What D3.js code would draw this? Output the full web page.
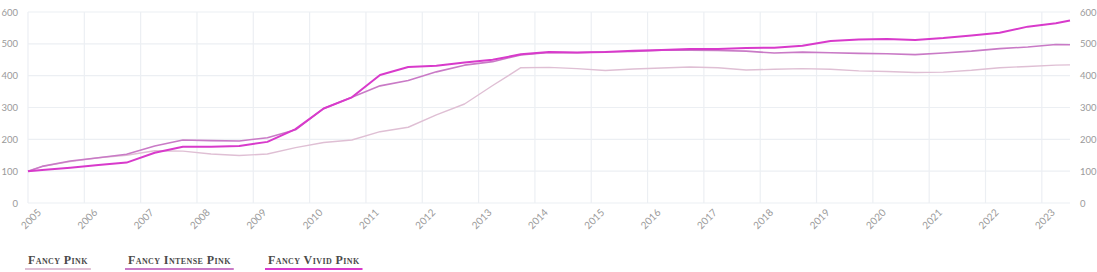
<!DOCTYPE html>
<html><head><meta charset="utf-8">
<script src="https://cdn.jsdelivr.net/npm/d3@7/dist/d3.min.js"></script>
<style>
html,body{margin:0;padding:0;background:#fff;}
svg{display:block;}
</style></head>
<body>
<svg id="c" width="1097" height="272"></svg>
<script>
const dates = [2005.0,2005.25,2005.75,2006.25,2006.75,2007.25,2007.75,2008.25,2008.75,2009.25,2009.75,2010.25,2010.75,2011.25,2011.75,2012.25,2012.75,2013.25,2013.75,2014.25,2014.75,2015.25,2015.75,2016.25,2016.75,2017.25,2017.75,2018.25,2018.75,2019.25,2019.75,2020.25,2020.75,2021.25,2021.75,2022.25,2022.75,2023.25,2023.5];
const fancyPink = [100,115,130,142,150,164,163,154,149,154,174,190,198,224,238,277,311,369,425,426,422,416,421,424,427,425,418,420,422,420,415,413,410,411,417,425,429,433,434];
const fancyIntensePink = [100,115,132,142,153,179,198,196,195,205,230,297,332,368,385,412,433,444,465,473,472,475,476,480,480,479,477,471,474,472,470,469,466,471,477,485,490,498,497];
const fancyVividPink = [100,104,111,119,127,158,177,177,179,192,232,297,332,402,427,431,441,450,467,474,473,474,478,481,484,484,487,488,494,509,514,515,512,518,526,535,554,565,573];
const yearTicks = d3.range(2005, 2024);
const valueTicks = [0,100,200,300,400,500,600];
const seriesNames = ["Fancy Pink","Fancy Intense Pink","Fancy Vivid Pink"];
const seriesColors = ["#dfbfd4","#c97ac6","#d83acb"];
const seriesWidths = [1.4,1.6,2];

const svg = d3.select("#c");
const x = d3.scaleLinear().domain([2005, 2023.5]).range([28, 1070]);
const y = d3.scaleLinear().domain([0, 600]).range([203, 12]);
const font = "Lato, 'Noto Sans', sans-serif";

// grid
svg.append("g").selectAll("line.h").data(valueTicks).join("line")
  .attr("x1", x(2005)).attr("x2", x(2023.5))
  .attr("y1", d => y(d)).attr("y2", d => y(d))
  .attr("stroke", "#eceff3").attr("stroke-width", 1.2);
svg.append("g").selectAll("line.v").data(yearTicks).join("line")
  .attr("x1", d => x(d)).attr("x2", d => x(d))
  .attr("y1", y(600)).attr("y2", y(0))
  .attr("stroke", "#eceff3").attr("stroke-width", 1.2);

// left axis
const yl = svg.append("g").attr("transform", "translate(20,0)")
  .call(d3.axisLeft(y).tickValues(valueTicks).tickSize(0).tickPadding(2));
yl.select(".domain").remove();
yl.selectAll("text").attr("fill", "#9a9a9a").style("font-family", font).style("font-size", "9.5px");

// right axis
const yr = svg.append("g").attr("transform", "translate(1078,0)")
  .call(d3.axisRight(y).tickValues(valueTicks).tickSize(0).tickPadding(2));
yr.select(".domain").remove();
yr.selectAll("text").attr("fill", "#9a9a9a").style("font-family", font).style("font-size", "9.5px");

// x axis
const xa = svg.append("g").attr("transform", "translate(0,207)")
  .call(d3.axisBottom(x).tickValues(yearTicks).tickFormat(d3.format("d")).tickSize(0).tickPadding(0));
xa.select(".domain").remove();
xa.selectAll("text")
  .attr("fill", "#9a9a9a").style("font-family", font).style("font-size", "10px")
  .attr("text-anchor", "end").attr("dy", "0.6em").attr("dx", "0")
  .attr("transform", "translate(9,2) rotate(-45)");

// lines
const allSeries = [fancyPink, fancyIntensePink, fancyVividPink];
const line = d3.line().x((d, i) => x(dates[i])).y(d => y(d));
allSeries.forEach((s, k) => {
  svg.append("path").datum(s)
    .attr("d", line)
    .attr("fill", "none")
    .attr("stroke", seriesColors[k])
    .attr("stroke-width", seriesWidths[k])
    .attr("stroke-linejoin", "round");
});

// legend
const legendX = [28, 128, 268];
const lg = svg.append("g");
seriesNames.forEach((n, k) => {
  const t = lg.append("text")
    .attr("x", legendX[k]).attr("y", 264)
    .attr("fill", "#4a4a4a")
    .style("font-family", "'Liberation Serif', serif")
    .style("font-variant", "small-caps")
    .style("font-weight", "bold")
    .style("font-size", "12px")
    .style("letter-spacing", "0.4px")
    .text(n);
  const w = t.node().getComputedTextLength();
  lg.append("line")
    .attr("x1", legendX[k] - 3).attr("x2", legendX[k] + w + 3)
    .attr("y1", 269).attr("y2", 269)
    .attr("stroke", seriesColors[k]).attr("stroke-width", 2);
});
</script>
</body></html>
